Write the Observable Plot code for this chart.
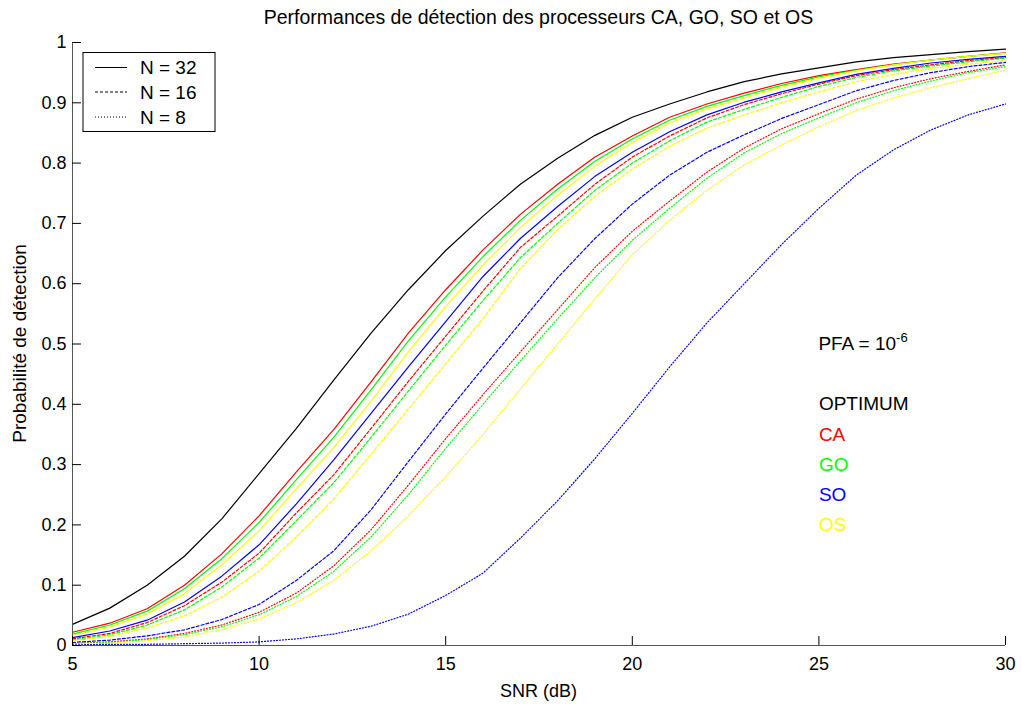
<!DOCTYPE html>
<html><head><meta charset="utf-8">
<script src="https://cdn.jsdelivr.net/npm/d3@7"></script>
<script src="https://cdn.jsdelivr.net/npm/@observablehq/plot@0.6"></script>
<style>
body{margin:0;background:#fff}
#chart svg{display:block}
</style>
</head><body><div id="chart"></div>
<script>
// ---- data ----
const snr  = [5,6,7,8,9,10,11,12,13,14,15,16,17,18,19,20,21,22,23,24,25,26,27,28,29,30];
const opt  = [0.035,0.062,0.100,0.148,0.210,0.285,0.360,0.440,0.518,0.590,0.655,0.712,0.765,0.808,0.846,0.876,0.898,0.918,0.935,0.948,0.958,0.968,0.975,0.980,0.985,0.989];
const ca32 = [0.022,0.037,0.061,0.100,0.152,0.215,0.288,0.358,0.437,0.518,0.590,0.656,0.715,0.765,0.810,0.845,0.876,0.898,0.916,0.932,0.945,0.955,0.964,0.971,0.977,0.983];
const go32 = [0.019,0.034,0.057,0.094,0.144,0.204,0.275,0.345,0.424,0.505,0.578,0.645,0.705,0.757,0.803,0.840,0.871,0.894,0.912,0.929,0.943,0.954,0.963,0.971,0.977,0.982];
const os32 = [0.017,0.031,0.052,0.086,0.134,0.190,0.260,0.328,0.405,0.487,0.562,0.631,0.693,0.747,0.795,0.834,0.866,0.890,0.908,0.926,0.941,0.953,0.963,0.971,0.977,0.982];
const so32 = [0.013,0.024,0.042,0.072,0.115,0.167,0.235,0.308,0.385,0.462,0.537,0.612,0.675,0.728,0.778,0.818,0.852,0.880,0.901,0.918,0.933,0.947,0.957,0.966,0.972,0.977];
const ca16 = [0.011,0.020,0.038,0.066,0.105,0.153,0.220,0.283,0.360,0.438,0.513,0.588,0.660,0.712,0.765,0.810,0.845,0.875,0.897,0.915,0.931,0.945,0.955,0.963,0.970,0.975];
const go16 = [0.009,0.018,0.034,0.059,0.097,0.145,0.207,0.270,0.345,0.422,0.498,0.572,0.643,0.700,0.755,0.800,0.837,0.868,0.889,0.909,0.927,0.942,0.953,0.961,0.968,0.974];
const os16 = [0.008,0.015,0.029,0.049,0.080,0.123,0.180,0.243,0.317,0.392,0.467,0.542,0.625,0.690,0.745,0.790,0.828,0.858,0.880,0.900,0.918,0.935,0.947,0.957,0.964,0.970];
const so16 = [0.005,0.009,0.016,0.026,0.043,0.068,0.108,0.157,0.225,0.305,0.384,0.460,0.535,0.610,0.675,0.732,0.780,0.818,0.847,0.874,0.897,0.920,0.937,0.950,0.960,0.967];
const ca8  = [0.003,0.006,0.011,0.020,0.034,0.055,0.087,0.132,0.192,0.266,0.343,0.416,0.487,0.557,0.627,0.687,0.737,0.785,0.825,0.857,0.882,0.906,0.925,0.940,0.952,0.963];
const go8  = [0.003,0.005,0.010,0.018,0.031,0.051,0.081,0.123,0.180,0.250,0.327,0.400,0.472,0.542,0.610,0.672,0.725,0.775,0.817,0.849,0.875,0.900,0.920,0.936,0.950,0.960];
const os8  = [0.002,0.004,0.008,0.014,0.026,0.044,0.071,0.108,0.157,0.215,0.280,0.350,0.425,0.500,0.575,0.648,0.705,0.755,0.797,0.830,0.860,0.887,0.908,0.925,0.940,0.954];
const so8  = [0.001,0.002,0.002,0.003,0.004,0.006,0.011,0.019,0.032,0.052,0.083,0.120,0.178,0.240,0.310,0.385,0.462,0.535,0.600,0.665,0.725,0.780,0.822,0.855,0.880,0.898];

const xTicks = [5,10,15,20,25,30];
const yTicks = [0,0.1,0.2,0.3,0.4,0.5,0.6,0.7,0.8,0.9,1];
const legendLabels = ["N = 32","N = 16","N = 8"];
const annotLabels = ["OPTIMUM","CA","GO","SO","OS"];
const annotY = [0.4,0.35,0.3,0.25,0.2];
const annotColors = ["#000000","#ff0000","#00ff00","#0000ff","#ffff00"];
const pfaY = 0.5, annotX = 25;
const titleText = "Performances de détection des processeurs CA, GO, SO et OS";
const xLabel = "SNR (dB)";
const yLabel = "Probabilité de détection";

// ---- build tables ----
const series = [
  {name:"OPT",  n:32, color:"#000000", v:opt},
  {name:"CA32", n:32, color:"#ff0000", v:ca32},
  {name:"GO32", n:32, color:"#00ff00", v:go32},
  {name:"OS32", n:32, color:"#ffff00", v:os32},
  {name:"SO32", n:32, color:"#0000ff", v:so32},
  {name:"CA16", n:16, color:"#ff0000", v:ca16},
  {name:"GO16", n:16, color:"#00ff00", v:go16},
  {name:"OS16", n:16, color:"#ffff00", v:os16},
  {name:"SO16", n:16, color:"#0000ff", v:so16},
  {name:"CA8",  n:8,  color:"#ff0000", v:ca8},
  {name:"GO8",  n:8,  color:"#00ff00", v:go8},
  {name:"OS8",  n:8,  color:"#ffff00", v:os8},
  {name:"SO8",  n:8,  color:"#0000ff", v:so8}
];
const rows = n => series.filter(s => s.n === n)
  .flatMap(s => snr.map((x,i) => ({snr:x, p:s.v[i], series:s.name, color:s.color})));
const annots = annotLabels.map((t,i) => ({label:t, y:annotY[i], color:annotColors[i]}));

const W = 1022, H = 706, mL = 72, mR = 17, mT = 42, mB = 61;
const plotW = W - mL - mR, plotH = H - mT - mB;
const FONT = '"Liberation Sans", Arial, Helvetica, sans-serif';

const plot = Plot.plot({
  width: W, height: H,
  marginLeft: mL, marginRight: mR, marginTop: mT, marginBottom: mB,
  style: {fontFamily: FONT, fontSize: "18px", background: "#ffffff", color: "#000"},
  x: {domain: [5, 30], label: null},
  y: {domain: [0, 1], label: null},
  color: {type: "identity"},
  marks: [
    Plot.line(rows(32), {x:"snr", y:"p", z:"series", stroke:"color", strokeWidth:1.2}),
    Plot.line(rows(16), {x:"snr", y:"p", z:"series", stroke:"color", strokeWidth:1.2, strokeDasharray:"3,2"}),
    Plot.line(rows(8),  {x:"snr", y:"p", z:"series", stroke:"color", strokeWidth:1.2, strokeDasharray:"1,2"}),
    Plot.ruleY([0], {stroke:"#555"}),
    Plot.ruleX([5], {stroke:"#555"}),
    Plot.tickX(xTicks, {x: d => d, insetTop: plotH - 9, stroke:"#000"}),
    Plot.tickY(yTicks, {y: d => d, insetRight: plotW - 9, stroke:"#000"}),
    Plot.axisX(xTicks, {tickSize: 0, tickPadding: 12, fontSize: 18}),
    Plot.axisY(yTicks, {tickSize: 0, tickPadding: 6, fontSize: 18, tickFormat: d => String(d)}),
    Plot.text(annots, {x: () => annotX, y: "y", text: "label", fill: "color", textAnchor: "start", fontSize: 19})
  ]
});

const svg = d3.select(plot);
const sx = plot.scale("x"), sy = plot.scale("y");

// title
svg.append("text").attr("x", mL + plotW/2).attr("y", 24)
  .attr("text-anchor","middle").attr("font-family",FONT).attr("font-size",19.5).attr("fill","#000")
  .text(titleText);
// x label
svg.append("text").attr("x", mL + plotW/2).attr("y", 697)
  .attr("text-anchor","middle").attr("font-family",FONT).attr("font-size",18).attr("fill","#000")
  .text(xLabel);
// y label
svg.append("text").attr("transform", `translate(26,${mT + plotH/2}) rotate(-90)`)
  .attr("text-anchor","middle").attr("font-family",FONT).attr("font-size",19).attr("fill","#000")
  .text(yLabel);
// PFA annotation
const pfa = svg.append("text").attr("x", sx.apply(annotX)).attr("y", sy.apply(pfaY)).attr("dy","0.35em")
  .attr("text-anchor","start").attr("font-family",FONT).attr("font-size",19).attr("fill","#000");
pfa.append("tspan").text("PFA = 10");
pfa.append("tspan").attr("dy","-8").attr("font-size",13).text("-6");

// legend
const lg = svg.append("g").attr("font-family",FONT).attr("font-size",19).attr("text-anchor","start");
lg.append("rect").attr("x",83).attr("y",52.5).attr("width",132).attr("height",79)
  .attr("fill","#fff").attr("stroke","#000").attr("stroke-width",1);
const dashes = [null, "3,2", "1,2"];
const rowY = [67.5, 92, 117];
legendLabels.forEach((t,i) => {
  const l = lg.append("line").attr("x1",95).attr("x2",127).attr("y1",rowY[i]).attr("y2",rowY[i])
    .attr("stroke","#000").attr("stroke-width",1);
  if (dashes[i]) l.attr("stroke-dasharray", dashes[i]);
  lg.append("text").attr("x",140).attr("y",rowY[i]).attr("dy","0.35em").attr("fill","#000").text(t);
});

document.getElementById("chart").appendChild(plot);
</script>
</body></html>
